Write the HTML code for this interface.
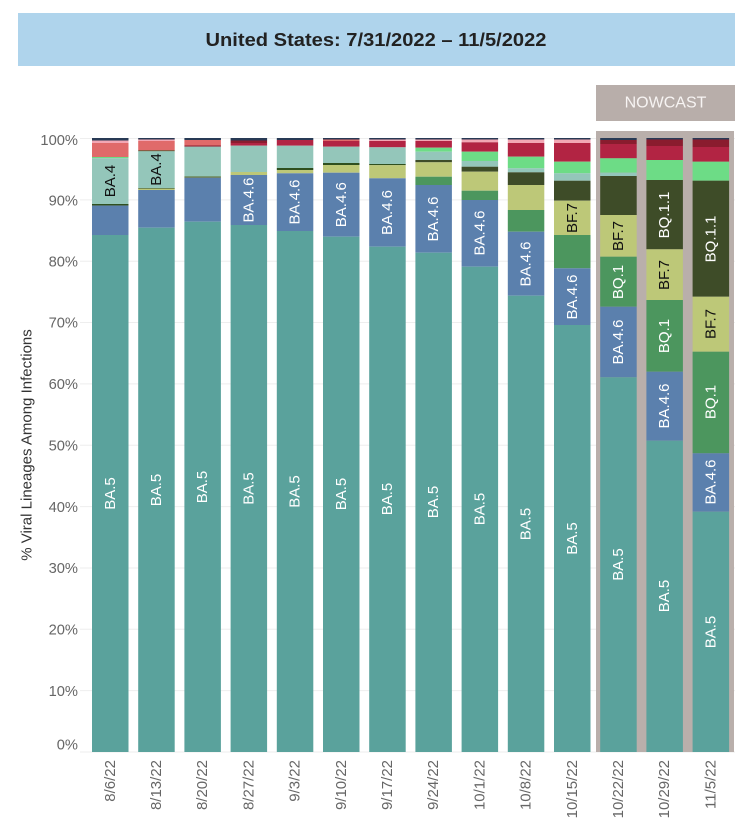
<!DOCTYPE html>
<html><head><meta charset="utf-8">
<style>
html,body{margin:0;padding:0;background:#fff;}
svg{display:block;font-family:"Liberation Sans",Arial,sans-serif;}
</style></head>
<body>
<svg width="742" height="838" viewBox="0 0 742 838" xmlns="http://www.w3.org/2000/svg">
<rect x="0" y="0" width="742" height="838" fill="#fff"/>
<!-- title -->
<rect x="18" y="13" width="717" height="53" fill="#afd4ec"/>
<text x="376" y="46" font-size="18" font-weight="bold" fill="#222" text-anchor="middle" textLength="341" lengthAdjust="spacingAndGlyphs">United States: 7/31/2022 – 11/5/2022</text>
<!-- gridlines -->
<g stroke="#eeeeee" stroke-width="1">
<line x1="80" x2="735" y1="138.5" y2="138.5"/>
<line x1="80" x2="735" y1="199.85" y2="199.85"/>
<line x1="80" x2="735" y1="261.2" y2="261.2"/>
<line x1="80" x2="735" y1="322.55" y2="322.55"/>
<line x1="80" x2="735" y1="383.9" y2="383.9"/>
<line x1="80" x2="735" y1="445.25" y2="445.25"/>
<line x1="80" x2="735" y1="506.6" y2="506.6"/>
<line x1="80" x2="735" y1="567.95" y2="567.95"/>
<line x1="80" x2="735" y1="629.3" y2="629.3"/>
<line x1="80" x2="735" y1="690.65" y2="690.65"/>
<line x1="80" x2="735" y1="752" y2="752"/>
</g>
<!-- nowcast -->
<rect x="596" y="85" width="139" height="36" fill="#b8aeaa"/>
<text x="665.5" y="103" font-size="16" fill="#f7f4f3" text-anchor="middle" dominant-baseline="central">NOWCAST</text>
<rect x="596" y="131" width="138" height="621" fill="#b9afab"/>
<!-- y labels -->
<g font-size="14.7" fill="#666" text-anchor="end" dominant-baseline="central">
<text x="78" y="141">100%</text>
<text x="78" y="201.5">90%</text>
<text x="78" y="262.5">80%</text>
<text x="78" y="323.5">70%</text>
<text x="78" y="385">60%</text>
<text x="78" y="446.5">50%</text>
<text x="78" y="508">40%</text>
<text x="78" y="569">30%</text>
<text x="78" y="630.5">20%</text>
<text x="78" y="692">10%</text>
<text x="78" y="745.5">0%</text>
</g>
<text transform="translate(27,445) rotate(-90)" font-size="15" fill="#333" text-anchor="middle" dominant-baseline="central">% Viral Lineages Among Infections</text>

<!-- Bar 1 8/6 x=92 -->
<g>
<rect x="92" y="138" width="36.5" height="2.5" fill="#283a55"/>
<rect x="92" y="140.5" width="36.5" height="2.5" fill="#f2a7b4"/>
<rect x="92" y="143" width="36.5" height="14" fill="#e06a6a"/>
<rect x="92" y="157" width="36.5" height="1.2" fill="#6ddc86"/>
<rect x="92" y="158.2" width="36.5" height="45.8" fill="#94c6ba"/>
<rect x="92" y="204" width="36.5" height="1.6" fill="#2f4f1f"/>
<rect x="92" y="205.6" width="36.5" height="29.4" fill="#5b80ad"/>
<rect x="92" y="235" width="36.5" height="517" fill="#5aa29c"/>
</g>
<!-- Bar 2 8/13 x=138.2 -->
<g>
<rect x="138.2" y="138" width="36.5" height="1.5" fill="#283a55"/>
<rect x="138.2" y="139.5" width="36.5" height="1.5" fill="#f2a7b4"/>
<rect x="138.2" y="141" width="36.5" height="9.5" fill="#e06a6a"/>
<rect x="138.2" y="150.5" width="36.5" height="0.8" fill="#2f4f1f"/>
<rect x="138.2" y="151.3" width="36.5" height="36.7" fill="#94c6ba"/>
<rect x="138.2" y="188" width="36.5" height="0.7" fill="#2f4f1f"/>
<rect x="138.2" y="188.7" width="36.5" height="1.3" fill="#bdc878"/>
<rect x="138.2" y="190" width="36.5" height="37.7" fill="#5b80ad"/>
<rect x="138.2" y="227.7" width="36.5" height="524.3" fill="#5aa29c"/>
</g>
<!-- Bar 3 8/20 x=184.4 -->
<g>
<rect x="184.4" y="138" width="36.5" height="2" fill="#283a55"/>
<rect x="184.4" y="140" width="36.5" height="5.5" fill="#e06a6a"/>
<rect x="184.4" y="145.5" width="36.5" height="1.2" fill="#8a1c2e"/>
<rect x="184.4" y="146.7" width="36.5" height="29.8" fill="#94c6ba"/>
<rect x="184.4" y="176.5" width="36.5" height="1.2" fill="#5a6a2a"/>
<rect x="184.4" y="177.7" width="36.5" height="44" fill="#5b80ad"/>
<rect x="184.4" y="221.7" width="36.5" height="530.3" fill="#5aa29c"/>
</g>
<!-- Bar 4 8/27 x=230.6 -->
<g>
<rect x="230.6" y="138" width="36.5" height="2.5" fill="#283a55"/>
<rect x="230.6" y="140.5" width="36.5" height="2.5" fill="#8a1c2e"/>
<rect x="230.6" y="143" width="36.5" height="2.7" fill="#b22443"/>
<rect x="230.6" y="145.7" width="36.5" height="26.3" fill="#94c6ba"/>
<rect x="230.6" y="172" width="36.5" height="3" fill="#bdc878"/>
<rect x="230.6" y="175" width="36.5" height="50" fill="#5b80ad"/>
<rect x="230.6" y="225" width="36.5" height="527" fill="#5aa29c"/>
</g>
<!-- Bar 5 9/3 x=276.8 -->
<g>
<rect x="276.8" y="138" width="36.5" height="2" fill="#283a55"/>
<rect x="276.8" y="140" width="36.5" height="5.7" fill="#b22443"/>
<rect x="276.8" y="145.7" width="36.5" height="22.3" fill="#94c6ba"/>
<rect x="276.8" y="168" width="36.5" height="2" fill="#2f4f1f"/>
<rect x="276.8" y="170" width="36.5" height="3.3" fill="#bdc878"/>
<rect x="276.8" y="173.3" width="36.5" height="57.7" fill="#5b80ad"/>
<rect x="276.8" y="231" width="36.5" height="521" fill="#5aa29c"/>
</g>
<!-- Bar 6 9/10 x=323 -->
<g>
<rect x="323" y="138" width="36.5" height="1.5" fill="#283a55"/>
<rect x="323" y="139.5" width="36.5" height="1.5" fill="#e06a6a"/>
<rect x="323" y="141" width="36.5" height="5.7" fill="#b22443"/>
<rect x="323" y="146.7" width="36.5" height="16.3" fill="#94c6ba"/>
<rect x="323" y="163" width="36.5" height="2" fill="#2f4f1f"/>
<rect x="323" y="165" width="36.5" height="7.7" fill="#bdc878"/>
<rect x="323" y="172.7" width="36.5" height="64" fill="#5b80ad"/>
<rect x="323" y="236.7" width="36.5" height="515.3" fill="#5aa29c"/>
</g>
<!-- Bar 7 9/17 x=369.2 -->
<g>
<rect x="369.2" y="138" width="36.5" height="1.5" fill="#283a55"/>
<rect x="369.2" y="139.5" width="36.5" height="1.5" fill="#f2a7b4"/>
<rect x="369.2" y="141" width="36.5" height="6.3" fill="#b22443"/>
<rect x="369.2" y="147.3" width="36.5" height="16.7" fill="#94c6ba"/>
<rect x="369.2" y="164" width="36.5" height="1.2" fill="#2f4f1f"/>
<rect x="369.2" y="165.2" width="36.5" height="13.1" fill="#bdc878"/>
<rect x="369.2" y="178.3" width="36.5" height="68.4" fill="#5b80ad"/>
<rect x="369.2" y="246.7" width="36.5" height="505.3" fill="#5aa29c"/>
</g>
<!-- Bar 8 9/24 x=415.4 -->
<g>
<rect x="415.4" y="138" width="36.5" height="1.5" fill="#283a55"/>
<rect x="415.4" y="139.5" width="36.5" height="1.5" fill="#f2a7b4"/>
<rect x="415.4" y="141" width="36.5" height="6.7" fill="#b22443"/>
<rect x="415.4" y="147.7" width="36.5" height="4" fill="#6ddc86"/>
<rect x="415.4" y="151.7" width="36.5" height="8.3" fill="#94c6ba"/>
<rect x="415.4" y="160" width="36.5" height="2.3" fill="#3e4c28"/>
<rect x="415.4" y="162.3" width="36.5" height="14.4" fill="#bdc878"/>
<rect x="415.4" y="176.7" width="36.5" height="8.3" fill="#4c965e"/>
<rect x="415.4" y="185" width="36.5" height="67.7" fill="#5b80ad"/>
<rect x="415.4" y="252.7" width="36.5" height="499.3" fill="#5aa29c"/>
</g>
<!-- Bar 9 10/1 x=461.6 -->
<g>
<rect x="461.6" y="138" width="36.5" height="1.5" fill="#283a55"/>
<rect x="461.6" y="139.5" width="36.5" height="2.8" fill="#f2a7b4"/>
<rect x="461.6" y="142.3" width="36.5" height="9.4" fill="#b22443"/>
<rect x="461.6" y="151.7" width="36.5" height="9.3" fill="#6ddc86"/>
<rect x="461.6" y="161" width="36.5" height="5.7" fill="#94c6ba"/>
<rect x="461.6" y="166.7" width="36.5" height="5" fill="#3e4c28"/>
<rect x="461.6" y="171.7" width="36.5" height="19" fill="#bdc878"/>
<rect x="461.6" y="190.7" width="36.5" height="9.3" fill="#4c965e"/>
<rect x="461.6" y="200" width="36.5" height="66.7" fill="#5b80ad"/>
<rect x="461.6" y="266.7" width="36.5" height="485.3" fill="#5aa29c"/>
</g>
<!-- Bar 10 10/8 x=507.8 -->
<g>
<rect x="507.8" y="138" width="36.5" height="1.5" fill="#283a55"/>
<rect x="507.8" y="139.5" width="36.5" height="3.5" fill="#f2a7b4"/>
<rect x="507.8" y="143" width="36.5" height="13.7" fill="#b22443"/>
<rect x="507.8" y="156.7" width="36.5" height="11.6" fill="#6ddc86"/>
<rect x="507.8" y="168.3" width="36.5" height="4" fill="#94c6ba"/>
<rect x="507.8" y="172.3" width="36.5" height="12.7" fill="#3e4c28"/>
<rect x="507.8" y="185" width="36.5" height="25" fill="#bdc878"/>
<rect x="507.8" y="210" width="36.5" height="21.7" fill="#4c965e"/>
<rect x="507.8" y="231.7" width="36.5" height="64" fill="#5b80ad"/>
<rect x="507.8" y="295.7" width="36.5" height="456.3" fill="#5aa29c"/>
</g>
<!-- Bar 11 10/15 x=554 -->
<g>
<rect x="554" y="138" width="36.5" height="1.5" fill="#283a55"/>
<rect x="554" y="139.5" width="36.5" height="3.5" fill="#f2a7b4"/>
<rect x="554" y="143" width="36.5" height="18.7" fill="#b22443"/>
<rect x="554" y="161.7" width="36.5" height="11.6" fill="#6ddc86"/>
<rect x="554" y="173.3" width="36.5" height="7.4" fill="#94c6ba"/>
<rect x="554" y="180.7" width="36.5" height="20" fill="#3e4c28"/>
<rect x="554" y="200.7" width="36.5" height="34.3" fill="#bdc878"/>
<rect x="554" y="235" width="36.5" height="33.3" fill="#4c965e"/>
<rect x="554" y="268.3" width="36.5" height="56.7" fill="#5b80ad"/>
<rect x="554" y="325" width="36.5" height="427" fill="#5aa29c"/>
</g>
<!-- Bar 12 10/22 x=600.2 -->
<g>
<rect x="600.2" y="138" width="36.5" height="2" fill="#283a55"/>
<rect x="600.2" y="140" width="36.5" height="4" fill="#8a1c2e"/>
<rect x="600.2" y="144" width="36.5" height="14.3" fill="#b22443"/>
<rect x="600.2" y="158.3" width="36.5" height="14.4" fill="#6ddc86"/>
<rect x="600.2" y="172.7" width="36.5" height="3.3" fill="#94c6ba"/>
<rect x="600.2" y="176" width="36.5" height="39" fill="#3e4c28"/>
<rect x="600.2" y="215" width="36.5" height="41.7" fill="#bdc878"/>
<rect x="600.2" y="256.7" width="36.5" height="50" fill="#4c965e"/>
<rect x="600.2" y="306.7" width="36.5" height="70.6" fill="#5b80ad"/>
<rect x="600.2" y="377.3" width="36.5" height="374.7" fill="#5aa29c"/>
</g>
<!-- Bar 13 10/29 x=646.4 -->
<g>
<rect x="646.4" y="138" width="36.5" height="1.5" fill="#283a55"/>
<rect x="646.4" y="139.5" width="36.5" height="6.5" fill="#8a1c2e"/>
<rect x="646.4" y="146" width="36.5" height="14" fill="#b22443"/>
<rect x="646.4" y="160" width="36.5" height="20" fill="#6ddc86"/>
<rect x="646.4" y="180" width="36.5" height="69.3" fill="#3e4c28"/>
<rect x="646.4" y="249.3" width="36.5" height="50.7" fill="#bdc878"/>
<rect x="646.4" y="300" width="36.5" height="71.7" fill="#4c965e"/>
<rect x="646.4" y="371.7" width="36.5" height="69" fill="#5b80ad"/>
<rect x="646.4" y="440.7" width="36.5" height="311.3" fill="#5aa29c"/>
</g>
<!-- Bar 14 11/5 x=692.6 -->
<g>
<rect x="692.6" y="138" width="36.5" height="1.5" fill="#283a55"/>
<rect x="692.6" y="139.5" width="36.5" height="7.5" fill="#8a1c2e"/>
<rect x="692.6" y="147" width="36.5" height="14.7" fill="#b22443"/>
<rect x="692.6" y="161.7" width="36.5" height="19" fill="#6ddc86"/>
<rect x="692.6" y="180.7" width="36.5" height="116" fill="#3e4c28"/>
<rect x="692.6" y="296.7" width="36.5" height="55" fill="#bdc878"/>
<rect x="692.6" y="351.7" width="36.5" height="101.6" fill="#4c965e"/>
<rect x="692.6" y="453.3" width="36.5" height="58.4" fill="#5b80ad"/>
<rect x="692.6" y="511.7" width="36.5" height="240.3" fill="#5aa29c"/>
</g>

<!-- bar labels -->
<g font-size="15" text-anchor="middle" dominant-baseline="central">
<g fill="#ffffff">
<text transform="translate(110.25,493.5) rotate(-90)">BA.5</text>
<text transform="translate(156.45,490) rotate(-90)">BA.5</text>
<text transform="translate(202.65,487) rotate(-90)">BA.5</text>
<text transform="translate(248.85,488.5) rotate(-90)">BA.5</text>
<text transform="translate(295.05,491.5) rotate(-90)">BA.5</text>
<text transform="translate(341.25,494) rotate(-90)">BA.5</text>
<text transform="translate(387.45,499) rotate(-90)">BA.5</text>
<text transform="translate(433.65,502) rotate(-90)">BA.5</text>
<text transform="translate(479.85,509) rotate(-90)">BA.5</text>
<text transform="translate(526.05,524) rotate(-90)">BA.5</text>
<text transform="translate(572.25,538.5) rotate(-90)">BA.5</text>
<text transform="translate(618.45,564.5) rotate(-90)">BA.5</text>
<text transform="translate(664.65,596) rotate(-90)">BA.5</text>
<text transform="translate(710.85,632) rotate(-90)">BA.5</text>

<text transform="translate(248.85,200) rotate(-90)">BA.4.6</text>
<text transform="translate(295.05,202) rotate(-90)">BA.4.6</text>
<text transform="translate(341.25,204.7) rotate(-90)">BA.4.6</text>
<text transform="translate(387.45,212.5) rotate(-90)">BA.4.6</text>
<text transform="translate(433.65,219) rotate(-90)">BA.4.6</text>
<text transform="translate(479.85,233) rotate(-90)">BA.4.6</text>
<text transform="translate(526.05,264) rotate(-90)">BA.4.6</text>
<text transform="translate(572.25,297) rotate(-90)">BA.4.6</text>
<text transform="translate(618.45,342) rotate(-90)">BA.4.6</text>
<text transform="translate(664.65,406) rotate(-90)">BA.4.6</text>
<text transform="translate(710.85,482) rotate(-90)">BA.4.6</text>

<text transform="translate(618.45,282) rotate(-90)">BQ.1</text>
<text transform="translate(664.65,336) rotate(-90)">BQ.1</text>
<text transform="translate(710.85,402) rotate(-90)">BQ.1</text>

<text transform="translate(664.65,215) rotate(-90)">BQ.1.1</text>
<text transform="translate(710.85,239) rotate(-90)">BQ.1.1</text>
</g>
<g fill="#111">
<text transform="translate(110.25,181) rotate(-90)">BA.4</text>
<text transform="translate(156.45,169.5) rotate(-90)">BA.4</text>
<text transform="translate(572.25,218) rotate(-90)">BF.7</text>
<text transform="translate(618.45,236) rotate(-90)">BF.7</text>
<text transform="translate(664.65,275) rotate(-90)">BF.7</text>
<text transform="translate(710.85,324) rotate(-90)">BF.7</text>
</g>
</g>

<!-- x labels -->
<g font-size="15" fill="#666" text-anchor="end" dominant-baseline="central">
<text transform="translate(110.25,760) rotate(-90)">8/6/22</text>
<text transform="translate(156.45,760) rotate(-90)">8/13/22</text>
<text transform="translate(202.65,760) rotate(-90)">8/20/22</text>
<text transform="translate(248.85,760) rotate(-90)">8/27/22</text>
<text transform="translate(295.05,760) rotate(-90)">9/3/22</text>
<text transform="translate(341.25,760) rotate(-90)">9/10/22</text>
<text transform="translate(387.45,760) rotate(-90)">9/17/22</text>
<text transform="translate(433.65,760) rotate(-90)">9/24/22</text>
<text transform="translate(479.85,760) rotate(-90)">10/1/22</text>
<text transform="translate(526.05,760) rotate(-90)">10/8/22</text>
<text transform="translate(572.25,760) rotate(-90)">10/15/22</text>
<text transform="translate(618.45,760) rotate(-90)">10/22/22</text>
<text transform="translate(664.65,760) rotate(-90)">10/29/22</text>
<text transform="translate(710.85,760) rotate(-90)">11/5/22</text>
</g>
</svg>
</body></html>
